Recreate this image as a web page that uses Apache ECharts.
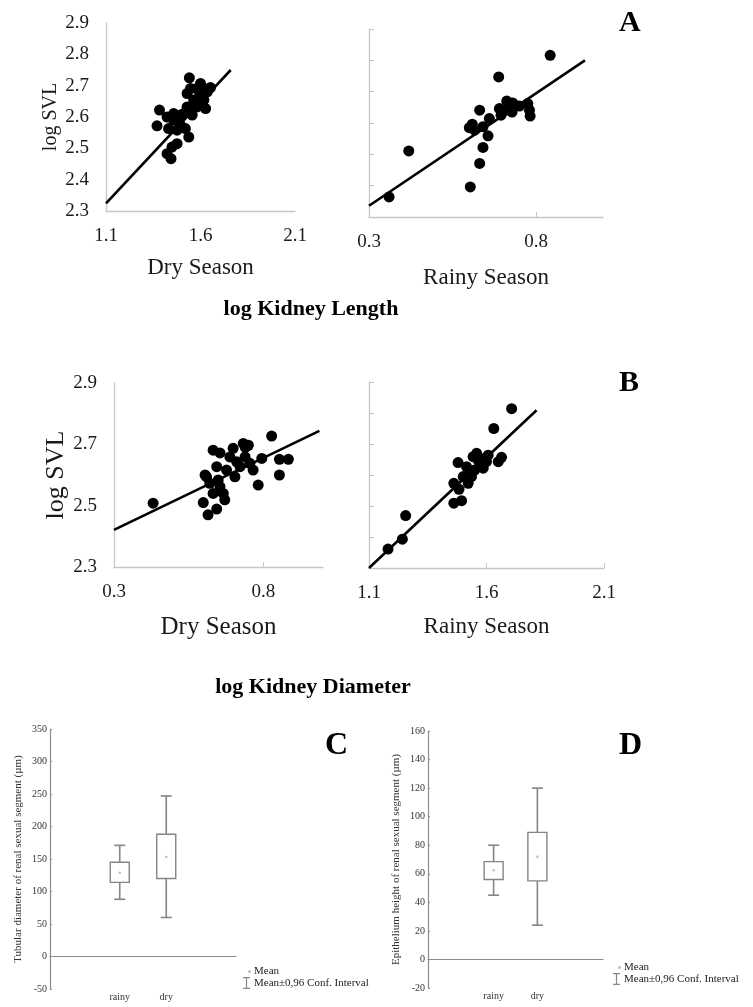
<!DOCTYPE html>
<html>
<head>
<meta charset="utf-8">
<script src="https://cdn.jsdelivr.net/npm/echarts@6/dist/echarts.min.js"></script>
<style>
  html, body { margin: 0; padding: 0; background: #fff; }
  #main { width: 753px; height: 1007px; }
</style>
</head>
<body>
<div id="main"></div>
<script>
// ---- data ----
// panel A: log kidney length vs log SVL
var lenDry = [[1.37,2.572],[1.541,2.725],[1.6,2.707],[1.653,2.694],[1.529,2.675],[1.547,2.691],[1.383,2.622],
  [1.423,2.6],[1.458,2.59],[1.431,2.563],[1.494,2.574],[1.538,2.536],[1.476,2.515],[1.449,2.504],[1.423,2.483],
  [1.444,2.467],[1.627,2.627],[1.582,2.632],[1.618,2.654],[1.564,2.654],[1.529,2.632],[1.511,2.611],[1.556,2.606],
  [1.494,2.606],[1.476,2.558],[1.52,2.563],[1.596,2.675],[1.636,2.68],[1.582,2.691],[1.458,2.611],[1.6,2.643],[1.64,2.69]];
var lenRainy = [[0.36,2.364],[0.419,2.511],[0.603,2.396],[0.631,2.471],[0.641,2.522],[0.688,2.747],[0.842,2.816],
  [0.631,2.641],[0.609,2.596],[0.616,2.577],[0.641,2.588],[0.656,2.559],[0.66,2.614],[0.69,2.646],[0.695,2.625],
  [0.712,2.67],[0.73,2.664],[0.728,2.635],[0.75,2.654],[0.775,2.662],[0.78,2.641],[0.782,2.622],[0.71,2.641],[0.6,2.585]];
var lenDryFit = [[1.1,2.324],[1.76,2.75]];
var lenRainyFit = [[0.3,2.336],[0.946,2.8]];

// panel B: log kidney diameter vs log SVL
var diaDry = [[0.431,2.508],[0.615,2.47],[0.599,2.51],[0.644,2.489],[0.632,2.54],[0.671,2.519],[0.61,2.594],
  [0.632,2.681],[0.655,2.672],[0.644,2.627],[0.649,2.584],[0.666,2.54],[0.705,2.594],[0.699,2.687],[0.733,2.703],
  [0.75,2.697],[0.739,2.659],[0.711,2.643],[0.722,2.627],[0.766,2.616],[0.783,2.567],[0.795,2.654],[0.828,2.727],
  [0.854,2.6],[0.854,2.651],[0.884,2.651],[0.677,2.616],[0.688,2.659],[0.621,2.573],[0.655,2.562],[0.755,2.638],
  [0.74,2.69],[0.605,2.6]];
var diaRainy = [[1.181,2.361],[1.242,2.393],[1.256,2.469],[1.461,2.509],[1.494,2.517],[1.461,2.573],[1.483,2.554],
  [1.479,2.64],[1.515,2.627],[1.522,2.573],[1.536,2.595],[1.543,2.659],[1.558,2.67],[1.572,2.638],[1.586,2.622],
  [1.607,2.664],[1.6,2.643],[1.65,2.643],[1.664,2.657],[1.631,2.75],[1.707,2.814],[1.55,2.616],[1.529,2.611],
  [1.564,2.648],[1.593,2.654],[1.501,2.595]];
var diaDryFit = [[0.3,2.421],[0.988,2.744]];
var diaRainyFit = [[1.1,2.3],[1.813,2.809]];

// tick values
var svlTicks = [2.3, 2.4, 2.5, 2.6, 2.7, 2.8, 2.9];
var svlTicksB = [2.3, 2.5, 2.7, 2.9];
var ticksHigh = [1.1, 1.6, 2.1];
var ticksLow = [0.3, 0.8];

// panels C and D: season boxes
var seasons = ['rainy', 'dry'];
var tubLow = [88, 60], tubQ1 = [114, 120], tubQ3 = [145, 188], tubHigh = [171, 247], tubMean = [129, 153];
var epiLow = [45, 24], epiQ1 = [56, 55], epiQ3 = [68.5, 89], epiHigh = [80, 120], epiMean = [62.5, 72];

var serif = 'Liberation Serif';
var grey = '#c6c6c6';
var myChart = echarts.init(document.getElementById('main'));

function scatterX(grid, min, max, labels, ticks, name, nameSize, nameGap) {
  return {
    type: 'value', gridIndex: grid, min: min, max: max,
    axisLine: { lineStyle: { color: grey, width: 1.3 } },
    axisTick: ticks ? { show: true, inside: true, length: 5, customValues: ticks, lineStyle: { color: grey } } : { show: false },
    axisLabel: { customValues: labels, fontFamily: serif, fontSize: 19, color: '#1a1a1a', margin: 16 },
    splitLine: { show: false },
    name: name, nameLocation: 'middle', nameGap: nameGap,
    nameTextStyle: { fontFamily: serif, fontSize: nameSize, color: '#1a1a1a' }
  };
}
function scatterY(grid, labels, ticks, name, nameSize, nameGap) {
  return {
    type: 'value', gridIndex: grid, min: 2.3, max: 2.9,
    axisLine: { show: true, lineStyle: { color: grey, width: 1.3 } },
    axisTick: ticks ? { show: true, inside: true, length: 5, customValues: ticks, lineStyle: { color: grey } } : { show: false },
    axisLabel: labels ? { customValues: labels, fontFamily: serif, fontSize: 19, color: '#1a1a1a', margin: 17 } : { show: false },
    splitLine: { show: false },
    name: name || '', nameLocation: 'middle', nameGap: nameGap || 0, nameRotate: 90,
    nameTextStyle: { fontFamily: serif, fontSize: nameSize || 12, color: '#1a1a1a' }
  };
}
function dots(i, data) {
  return { type: 'scatter', xAxisIndex: i, yAxisIndex: i, data: data, symbolSize: 11,
    itemStyle: { color: '#000', opacity: 1 }, z: 3 };
}
function fit(i, data) {
  return { type: 'line', xAxisIndex: i, yAxisIndex: i, data: data, symbol: 'none',
    lineStyle: { color: '#000', width: 2.6 }, z: 2 };
}

function boxData(low, q1, q3, high) {
  return seasons.map(function (s, i) { return [s, low[i], q1[i], q3[i], high[i]]; });
}
function renderBox(params, api) {
  var x = api.value(0);
  var pLow = api.coord([x, api.value(1)]);
  var pQ1 = api.coord([x, api.value(2)]);
  var pQ3 = api.coord([x, api.value(3)]);
  var pHigh = api.coord([x, api.value(4)]);
  var cx = pLow[0], w = 19, cap = 11;
  var st = { stroke: '#858585', lineWidth: 1.6, fill: null };
  return {
    type: 'group',
    children: [
      { type: 'line', shape: { x1: cx, y1: pHigh[1], x2: cx, y2: pQ3[1] }, style: st },
      { type: 'line', shape: { x1: cx, y1: pLow[1], x2: cx, y2: pQ1[1] }, style: st },
      { type: 'line', shape: { x1: cx - cap / 2, y1: pHigh[1], x2: cx + cap / 2, y2: pHigh[1] }, style: st },
      { type: 'line', shape: { x1: cx - cap / 2, y1: pLow[1], x2: cx + cap / 2, y2: pLow[1] }, style: st },
      { type: 'rect', shape: { x: cx - w / 2, y: pQ3[1], width: w, height: pQ1[1] - pQ3[1] },
        style: { stroke: '#858585', lineWidth: 1.4, fill: '#fff' } }
    ]
  };
}
function boxX(grid) {
  return {
    type: 'category', gridIndex: grid, data: [''].concat(seasons, ['']),
    axisLine: { lineStyle: { color: '#8c8c8c', width: 1.2 } },
    axisTick: { show: false },
    axisLabel: { fontFamily: serif, fontSize: 10, color: '#333', margin: 3 }
  };
}
function boxY(grid, min, max, step, name) {
  return {
    type: 'value', gridIndex: grid, min: min, max: max, interval: step,
    axisLine: { show: true, lineStyle: { color: '#8c8c8c', width: 1.2 } },
    axisTick: { show: true, inside: true, length: 2, lineStyle: { color: '#8c8c8c' } },
    axisLabel: { fontFamily: serif, fontSize: 10, color: '#333', margin: 3 },
    splitLine: { show: false },
    name: name, nameLocation: 'middle', nameRotate: 90, nameGap: 26,
    nameTextStyle: { fontFamily: serif, fontSize: 11, color: '#333' }
  };
}

var ciName = 'Mean\u00b10,96 Conf. Interval';
var ciIcon = 'path://M0,0h7v1.2h-2.9v9.6h2.9v1.2h-7v-1.2h2.9v-9.6h-2.9z';
function legends(left, top) {
  return [
    { left: left + 5, top: top, data: ['Mean'], icon: 'circle', itemWidth: 3, itemHeight: 3, padding: 0,
      selectedMode: false, textStyle: { fontFamily: serif, fontSize: 11, color: '#222', padding: [0, 0, 0, -2] } },
    { left: left, top: top + 11, data: [{ name: ciName, icon: ciIcon, itemStyle: { color: '#888' } }],
      itemWidth: 7, itemHeight: 12, padding: 0, selectedMode: false,
      textStyle: { fontFamily: serif, fontSize: 11, color: '#222', padding: [0, 0, 0, -1] } }
  ];
}

function letter(txt, left, top, size) {
  return { text: txt, left: left, top: top, padding: 0,
    textStyle: { fontFamily: serif, fontWeight: 'bold', fontSize: size, color: '#000' } };
}

var option = {
  backgroundColor: '#fff',
  animation: false,
  title: [
    letter('A', 619, 8, 30),
    letter('B', 619, 368, 30),
    letter('C', 325, 730, 32),
    letter('D', 619, 730, 32),
    { text: 'log Kidney Length', left: 311, top: 298, textAlign: 'center', padding: 0,
      textStyle: { fontFamily: serif, fontWeight: 'bold', fontSize: 22, color: '#000' } },
    { text: 'log Kidney Diameter', left: 313, top: 676, textAlign: 'center', padding: 0,
      textStyle: { fontFamily: serif, fontWeight: 'bold', fontSize: 22, color: '#000' } }
  ],
  legend: legends(243, 966).concat(legends(613, 962)),
  grid: [
    { left: 106, top: 23, width: 189, height: 188 },
    { left: 369, top: 29, width: 234, height: 188 },
    { left: 114, top: 383, width: 209, height: 184 },
    { left: 369, top: 382, width: 235, height: 186 },
    { left: 50, top: 729, width: 186, height: 260 },
    { left: 428, top: 731, width: 175, height: 257 }
  ],
  xAxis: [
    scatterX(0, 1.1, 2.1, ticksHigh, null, 'Dry Season', 23, 45),
    scatterX(1, 0.3, 1.0, ticksLow, [0.8], 'Rainy Season', 23, 49),
    scatterX(2, 0.3, 1.0, ticksLow, [0.8], 'Dry Season', 25, 48),
    scatterX(3, 1.1, 2.1, ticksHigh, [1.6, 2.1], 'Rainy Season', 23, 47),
    boxX(4),
    boxX(5)
  ],
  yAxis: [
    scatterY(0, svlTicks, null, 'log SVL', 20, 45),
    scatterY(1, null, svlTicks),
    scatterY(2, svlTicksB, null, 'log SVL', 26, 42),
    scatterY(3, null, svlTicks),
    boxY(4, -50, 350, 50, 'Tubular diameter of renal sexual segment (\u00b5m)'),
    boxY(5, -20, 160, 20, 'Epithelium height of renal sexual segment (\u00b5m)')
  ],
  series: [
    fit(0, lenDryFit), dots(0, lenDry),
    fit(1, lenRainyFit), dots(1, lenRainy),
    fit(2, diaDryFit), dots(2, diaDry),
    fit(3, diaRainyFit), dots(3, diaRainy),
    { type: 'custom', name: ciName, xAxisIndex: 4, yAxisIndex: 4, renderItem: renderBox,
      data: boxData(tubLow, tubQ1, tubQ3, tubHigh), itemStyle: { color: '#888' } },
    { type: 'scatter', name: 'Mean', xAxisIndex: 4, yAxisIndex: 4, symbolSize: 2.5,
      data: seasons.map(function (s, i) { return [s, tubMean[i]]; }), itemStyle: { color: '#aaa' }, z: 4 },
    { type: 'custom', name: ciName, xAxisIndex: 5, yAxisIndex: 5, renderItem: renderBox,
      data: boxData(epiLow, epiQ1, epiQ3, epiHigh), itemStyle: { color: '#888' } },
    { type: 'scatter', name: 'Mean', xAxisIndex: 5, yAxisIndex: 5, symbolSize: 2.5,
      data: seasons.map(function (s, i) { return [s, epiMean[i]]; }), itemStyle: { color: '#aaa' }, z: 4 }
  ]
};
myChart.setOption(option);
</script>
</body>
</html>
